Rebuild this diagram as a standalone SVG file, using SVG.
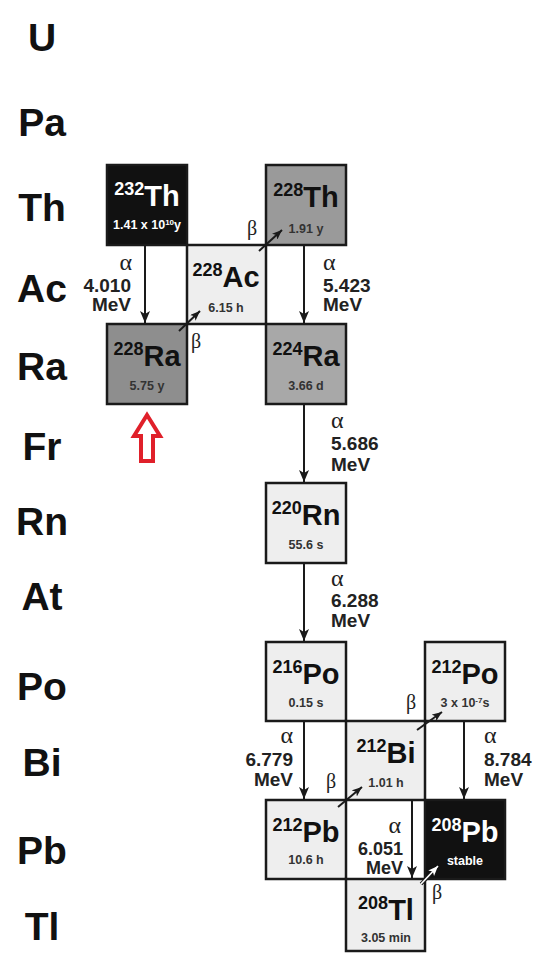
<svg xmlns="http://www.w3.org/2000/svg" width="536" height="953" viewBox="0 0 536 953">
<style>
.row{font-family:"Liberation Sans",Arial,sans-serif;font-weight:bold;font-size:39px;fill:#111;text-anchor:middle}
.box{stroke:#1a1a1a;stroke-width:2.5}
.light{fill:#eeeeee}
.blk{fill:#111111}
.nm{font-family:"Liberation Sans",Arial,sans-serif;font-weight:bold;text-anchor:middle;fill:#111}
.nm .s{font-size:18px}
.nm .m{font-size:29px}
.hl{font-family:"Liberation Sans",Arial,sans-serif;font-weight:bold;font-size:12.5px;text-anchor:middle;fill:#333}
.w{fill:#fff}
.e{font-family:"Liberation Sans",Arial,sans-serif;font-weight:bold;font-size:19px;fill:#222}
.g{font-family:"Liberation Serif","Times New Roman",serif;font-size:24px;fill:#222}
.b{font-family:"Liberation Serif","Times New Roman",serif;font-size:20px;fill:#222}
.r{text-anchor:end}
.ln{stroke:#1a1a1a;stroke-width:2;fill:none}
</style>
<defs>
<marker id="ah" viewBox="0 0 12 10" refX="12" refY="5" markerWidth="12" markerHeight="10" markerUnits="userSpaceOnUse" orient="auto"><path d="M0,0 L12,5 L0,10 L3,5 z" fill="#1a1a1a"/></marker>
<marker id="bh" viewBox="0 0 10 8" refX="10" refY="4" markerWidth="10" markerHeight="8" markerUnits="userSpaceOnUse" orient="auto"><path d="M0,0 L10,4 L0,8 L2.5,4 z" fill="#1a1a1a"/></marker>
<marker id="wh" viewBox="0 0 10 8" refX="10" refY="4" markerWidth="10" markerHeight="8" markerUnits="userSpaceOnUse" orient="auto"><path d="M0,0 L10,4 L0,8 L2.5,4 z" fill="#ffffff"/></marker>
</defs>
<rect width="536" height="953" fill="#fff"/>
<g id="row-labels">
<text class="row" x="42" y="51">U</text>
<text class="row" x="42" y="136">Pa</text>
<text class="row" x="42" y="221">Th</text>
<text class="row" x="42" y="302">Ac</text>
<text class="row" x="42" y="380">Ra</text>
<text class="row" x="42" y="460">Fr</text>
<text class="row" x="42" y="535">Rn</text>
<text class="row" x="42" y="610">At</text>
<text class="row" x="42" y="700">Po</text>
<text class="row" x="42" y="776">Bi</text>
<text class="row" x="42" y="864">Pb</text>
<text class="row" x="42" y="940">Tl</text>
</g>
<g id="Th232">
<rect class="box blk" x="107" y="165" width="80" height="80"/>
<text class="nm" x="147" y="206" style="fill:#fff"><tspan class="s" dy="-11">232</tspan><tspan class="m" dy="11">Th</tspan></text>
<text class="hl w" x="147" y="229">1.41 x 10<tspan font-size="8" dy="-4">10</tspan><tspan dy="4">y</tspan></text>
</g>
<g id="Ac228">
<rect class="box light" x="187" y="245" width="79" height="79"/>
<text class="nm" x="226" y="287"><tspan class="s" dy="-11">228</tspan><tspan class="m" dy="11">Ac</tspan></text>
<text class="hl" x="226" y="312">6.15 h</text>
</g>
<g id="Th228">
<rect class="box" fill="#9a9a9a" x="266" y="165" width="80" height="80"/>
<text class="nm" x="306" y="207"><tspan class="s" dy="-11">228</tspan><tspan class="m" dy="11">Th</tspan></text>
<text class="hl" x="306" y="233">1.91 y</text>
</g>
<g id="Ra228">
<rect class="box" fill="#8e8e8e" x="107" y="324" width="80" height="80"/>
<text class="nm" x="147" y="366"><tspan class="s" dy="-11">228</tspan><tspan class="m" dy="11">Ra</tspan></text>
<text class="hl" x="147" y="390">5.75 y</text>
</g>
<g id="Ra224">
<rect class="box" fill="#a8a8a8" x="266" y="324" width="80" height="80"/>
<text class="nm" x="306" y="366"><tspan class="s" dy="-11">224</tspan><tspan class="m" dy="11">Ra</tspan></text>
<text class="hl" x="306" y="390">3.66 d</text>
</g>
<g id="Rn220">
<rect class="box light" x="266" y="483" width="80" height="80"/>
<text class="nm" x="306" y="525"><tspan class="s" dy="-11">220</tspan><tspan class="m" dy="11">Rn</tspan></text>
<text class="hl" x="306" y="549">55.6 s</text>
</g>
<g id="Po216">
<rect class="box light" x="266" y="642" width="80" height="79"/>
<text class="nm" x="306" y="684"><tspan class="s" dy="-11">216</tspan><tspan class="m" dy="11">Po</tspan></text>
<text class="hl" x="306" y="707">0.15 s</text>
</g>
<g id="Po212">
<rect class="box light" x="425" y="642" width="80" height="79"/>
<text class="nm" x="465" y="684"><tspan class="s" dy="-11">212</tspan><tspan class="m" dy="11">Po</tspan></text>
<text class="hl" x="465" y="707">3 x 10<tspan font-size="8" dy="-4">-7</tspan><tspan dy="4">s</tspan></text>
</g>
<g id="Bi212">
<rect class="box light" x="346" y="721" width="79" height="79"/>
<text class="nm" x="386" y="763"><tspan class="s" dy="-11">212</tspan><tspan class="m" dy="11">Bi</tspan></text>
<text class="hl" x="386" y="787">1.01 h</text>
</g>
<g id="Pb212">
<rect class="box light" x="266" y="800" width="80" height="79"/>
<text class="nm" x="306" y="842"><tspan class="s" dy="-11">212</tspan><tspan class="m" dy="11">Pb</tspan></text>
<text class="hl" x="306" y="864">10.6 h</text>
</g>
<g id="Pb208">
<rect class="box blk" x="425" y="800" width="80" height="79"/>
<text class="nm" x="465" y="842" style="fill:#fff"><tspan class="s" dy="-11">208</tspan><tspan class="m" dy="11">Pb</tspan></text>
<text class="hl w" x="465" y="865">stable</text>
</g>
<g id="Tl208">
<rect class="box light" x="346" y="879" width="79" height="72"/>
<text class="nm" x="386" y="920"><tspan class="s" dy="-11">208</tspan><tspan class="m" dy="11">Tl</tspan></text>
<text class="hl" x="386" y="942">3.05 min</text>
</g>
<g id="connectors">
<line class="ln" x1="145" y1="245" x2="145" y2="323" marker-end="url(#ah)"/>
<line class="ln" x1="304" y1="245" x2="304" y2="323" marker-end="url(#ah)"/>
<line class="ln" x1="304" y1="404" x2="304" y2="482" marker-end="url(#ah)"/>
<line class="ln" x1="304" y1="563" x2="304" y2="641" marker-end="url(#ah)"/>
<line class="ln" x1="304" y1="721" x2="304" y2="799" marker-end="url(#ah)"/>
<line class="ln" x1="464" y1="721" x2="464" y2="799" marker-end="url(#ah)"/>
<line class="ln" x1="412" y1="800" x2="412" y2="878" marker-end="url(#ah)"/>
<line class="ln" x1="179" y1="331" x2="200" y2="311" marker-end="url(#bh)"/>
<line class="ln" x1="259" y1="251" x2="282" y2="230" marker-end="url(#bh)"/>
<line class="ln" x1="338" y1="807" x2="362" y2="787" marker-end="url(#bh)"/>
<line class="ln" x1="417" y1="730" x2="442" y2="712" marker-end="url(#bh)"/>
<line x1="421" y1="884" x2="430" y2="875" stroke="#1a1a1a" stroke-width="3.5"/>
<line x1="421" y1="884" x2="438" y2="866" stroke="#fff" stroke-width="1.6" marker-end="url(#wh)"/>
</g>
<g id="labels">
<text class="g r" x="132" y="270">α</text>
<text class="e r" x="131" y="292">4.010</text>
<text class="e r" x="131" y="311">MeV</text>
<text class="g" x="323" y="270">α</text>
<text class="e" x="323" y="292">5.423</text>
<text class="e" x="323" y="311">MeV</text>
<text class="g" x="331" y="428">α</text>
<text class="e" x="331" y="450">5.686</text>
<text class="e" x="331" y="471">MeV</text>
<text class="g" x="331" y="586">α</text>
<text class="e" x="331" y="607">6.288</text>
<text class="e" x="331" y="627">MeV</text>
<text class="g r" x="293" y="743">α</text>
<text class="e r" x="293" y="766">6.779</text>
<text class="e r" x="293" y="786">MeV</text>
<text class="g" x="484" y="743">α</text>
<text class="e" x="484" y="766">8.784</text>
<text class="e" x="484" y="786">MeV</text>
<text class="g r" x="401" y="833">α</text>
<text class="e r" x="403" y="855" style="font-size:18px">6.051</text>
<text class="e r" x="403" y="874" style="font-size:18px">MeV</text>
<text class="b" x="191" y="348">β</text>
<text class="b" x="247" y="235">β</text>
<text class="b" x="326" y="788">β</text>
<text class="b" x="406" y="709">β</text>
<text class="b" x="432" y="899">β</text>
</g>
<g id="marker-arrow">
<polygon points="147,415 160,436 153,436 153,461 141,461 141,436 134,436" fill="none" stroke="#e0202a" stroke-width="4" stroke-linejoin="miter"/>
</g>
</svg>
